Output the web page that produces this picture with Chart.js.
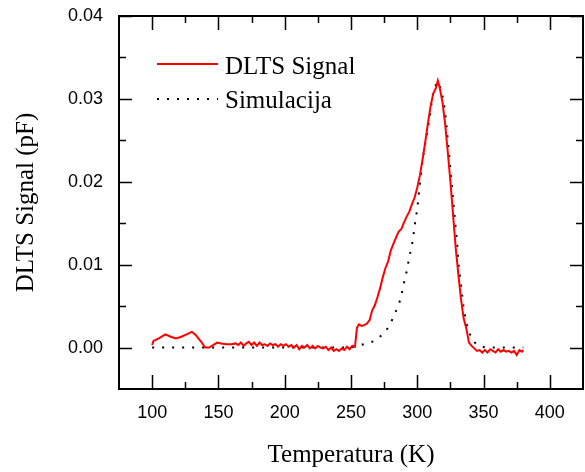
<!DOCTYPE html>
<html>
<head>
<meta charset="utf-8">
<script src="https://cdn.jsdelivr.net/npm/chart.js@4/dist/chart.umd.min.js"></script>
<style>
  body { margin: 0; background: #fff; }
</style>
</head>
<body>
<canvas id="dltsChart" width="585" height="472"></canvas>
<script>
// measured DLTS signal (K, pF)
var signalT = [100, 101, 105, 110, 114, 118, 122, 126, 130, 133, 137, 140, 143, 146, 149, 152, 156, 160, 163, 165,
  167, 169, 171, 173, 175, 177, 179, 181, 183, 185, 187, 189, 191, 193, 195, 197, 199, 201, 203, 205,
  207, 209, 211, 213, 215, 217, 219, 221, 223, 225, 227, 229, 231, 233, 235, 237, 239, 241, 243, 245,
  247, 249, 251, 253, 254.5, 256, 258, 260, 262, 264, 266, 268, 270, 272, 274, 276, 278, 280, 282, 284,
  286, 288, 290, 292, 294, 296, 298, 300, 302, 304, 306, 308, 310, 312, 314, 315.5, 317, 319, 321, 323,
  325, 327, 329, 331, 333, 335, 337, 339, 341, 343, 345, 347, 349, 351, 353, 355, 357, 359, 361, 363,
  365, 367, 369, 371, 373, 375, 377, 379, 380];
var signalV = [0.0003, 0.0008, 0.0011, 0.0016, 0.0013, 0.0011, 0.0013, 0.0016, 0.0019, 0.0015, 0.0007, 0.0000, 0.0000, 0.0003, 0.0006, 0.0005, 0.0004, 0.0004, 0.0005, 0.0003,
  0.0006, 0.0002, 0.0005, 0.0007, 0.0003, 0.0006, 0.0002, 0.0006, 0.0003, 0.0004, 0.0002, 0.0005, 0.0003, 0.0004, 0.0001, 0.0004, 0.0002, 0.0004, 0.0001, 0.0003,
  0.0000, 0.0003, -0.0002, 0.0002, 0.0000, 0.0003, -0.0001, 0.0002, -0.0001, 0.0002, 0.0000, -0.0001, 0.0001, -0.0003, 0.0000, -0.0004, -0.0002, -0.0004, -0.0001, -0.0003,
  0.0001, -0.0002, 0.0002, 0.0001, 0.0024, 0.0028, 0.0026, 0.0027, 0.0029, 0.0033, 0.0045, 0.0051, 0.0061, 0.0072, 0.0085, 0.0096, 0.0104, 0.0117, 0.0125, 0.0133,
  0.0140, 0.0143, 0.0151, 0.0158, 0.0164, 0.0173, 0.0181, 0.0193, 0.0208, 0.0227, 0.0248, 0.0270, 0.0291, 0.0306, 0.0313, 0.0322, 0.0313, 0.0296, 0.0270, 0.0236,
  0.0200, 0.0160, 0.0120, 0.0088, 0.0058, 0.0035, 0.0023, 0.0006, 0.0002, -0.0001, -0.0004, -0.0003, -0.0006, -0.0003, -0.0006, -0.0002, -0.0004, -0.0006, -0.0002, -0.0005,
  -0.0003, -0.0005, -0.0004, -0.0006, -0.0004, -0.0009, -0.0003, -0.0005, -0.0003];

// simulation (K, pF)
var simT = [100, 150, 200, 250, 255, 262, 268, 274, 279, 282, 285, 287.5, 289, 290.5, 292, 293.5, 295, 296.5, 298, 300,
  302, 304, 307, 309.5, 311.5, 313, 315.5, 318.5, 321, 323, 325, 327.5, 330.2, 331.2, 333, 334.5, 337, 341.5, 348, 352, 380];
var simV = [0, 0, 0, 0, 0.0002, 0.0005, 0.0008, 0.0016, 0.0026, 0.0037, 0.0048, 0.0059, 0.0071, 0.0082, 0.0092, 0.0105, 0.0117, 0.0128, 0.0147, 0.0168,
  0.0197, 0.0227, 0.0255, 0.0280, 0.0303, 0.0314, 0.0321, 0.0309, 0.0285, 0.0251, 0.0215, 0.0170, 0.0123, 0.0099, 0.0076, 0.0053, 0.0029, 0.0008, 0.0001, 0, 0];

var xTicks = [100, 150, 200, 250, 300, 350, 400];
var xMinor = [125, 175, 225, 275, 325, 375];
var yTicks = [0, 0.01, 0.02, 0.03, 0.04];
var yMinor = [0.005, 0.015, 0.025, 0.035];
var seriesNames = ['DLTS Signal', 'Simulacija'];

function pts(xs, ys) {
    return xs.map(function (x, i) { return {x: x, y: ys[i]}; });
}

// inward ticks on all four sides plus the frame
var frameTicks = {
    id: 'frameTicks',
    afterDraw: function (chart) {
        var c = chart.ctx, a = chart.chartArea;
        var xs = chart.scales.x, ys = chart.scales.y;
        c.save();
        c.strokeStyle = '#000';
        c.lineWidth = 1.5;
        function xt(v, len) {
            var p = Math.round(xs.getPixelForValue(v)) + 0.5;
            c.beginPath();
            c.moveTo(p, a.bottom); c.lineTo(p, a.bottom - len);
            c.moveTo(p, a.top); c.lineTo(p, a.top + len);
            c.stroke();
        }
        function yt(v, len) {
            var p = Math.round(ys.getPixelForValue(v)) + 0.5;
            c.beginPath();
            c.moveTo(a.left, p); c.lineTo(a.left + len, p);
            c.moveTo(a.right, p); c.lineTo(a.right - len, p);
            c.stroke();
        }
        xTicks.forEach(function (v) { xt(v, 14); });
        xMinor.forEach(function (v) { xt(v, 7); });
        yTicks.forEach(function (v) { yt(v, 13); });
        yMinor.forEach(function (v) { yt(v, 7); });
        c.lineWidth = 2;
        c.strokeRect(a.left, a.top, a.right - a.left, a.bottom - a.top);

        // legend
        c.font = '25px "Liberation Serif"';
        c.fillStyle = '#000';
        c.textBaseline = 'alphabetic';
        var lx = a.left + 38, tx = a.left + 106;
        c.strokeStyle = '#ff0000';
        c.lineWidth = 2;
        c.beginPath(); c.moveTo(lx, 64); c.lineTo(lx + 61, 64); c.stroke();
        c.fillText(seriesNames[0], tx, 74);
        c.strokeStyle = '#000';
        c.setLineDash([2, 8]);
        c.beginPath(); c.moveTo(lx, 99); c.lineTo(lx + 61, 99); c.stroke();
        c.setLineDash([]);
        c.fillText(seriesNames[1], tx, 108);
        c.restore();
    }
};

var ctx = document.getElementById('dltsChart').getContext('2d');
var dltsChart = new Chart(ctx, {
    type: 'line',
    data: {
        datasets: [{
            label: seriesNames[0],
            data: pts(signalT, signalV),
            borderColor: '#ff0000',
            borderWidth: 2,
            pointRadius: 0,
            tension: 0
        }, {
            label: seriesNames[1],
            data: pts(simT, simV),
            borderColor: '#000',
            borderWidth: 2,
            borderDash: [2, 8],
            pointRadius: 0,
            tension: 0
        }]
    },
    options: {
        responsive: false,
        animation: false,
        layout: {
            padding: {top: 16, right: 2, left: 0, bottom: 0}
        },
        plugins: {
            legend: {display: false},
            tooltip: {enabled: false}
        },
        scales: {
            x: {
                type: 'linear',
                min: 75,
                max: 425,
                afterBuildTicks: function (scale) {
                    scale.ticks = xTicks.map(function (v) { return {value: v}; });
                },
                afterFit: function (scale) {
                    scale.height = 83;
                    scale.paddingLeft = 0;
                    scale.paddingRight = 0;
                },
                grid: {display: false, drawTicks: false},
                border: {display: false},
                ticks: {
                    padding: 13,
                    color: '#000',
                    font: {family: 'Liberation Sans', size: 18}
                },
                title: {
                    display: true,
                    text: 'Temperatura (K)',
                    color: '#000',
                    padding: {top: 0, bottom: 2},
                    font: {family: 'Liberation Serif', size: 25}
                }
            },
            y: {
                min: -0.005,
                max: 0.04,
                afterBuildTicks: function (scale) {
                    scale.ticks = yTicks.map(function (v) { return {value: v}; });
                },
                afterFit: function (scale) {
                    scale.width = 119;
                    scale.paddingTop = 0;
                    scale.paddingBottom = 0;
                },
                grid: {display: false, drawTicks: false},
                border: {display: false},
                ticks: {
                    padding: 16,
                    color: '#000',
                    font: {family: 'Liberation Sans', size: 18},
                    callback: function (v) { return v.toFixed(2); }
                },
                title: {
                    display: true,
                    text: 'DLTS Signal (pF)',
                    color: '#000',
                    padding: {top: 11, bottom: 0},
                    font: {family: 'Liberation Serif', size: 25}
                }
            }
        }
    },
    plugins: [frameTicks]
});
</script>
</body>
</html>
